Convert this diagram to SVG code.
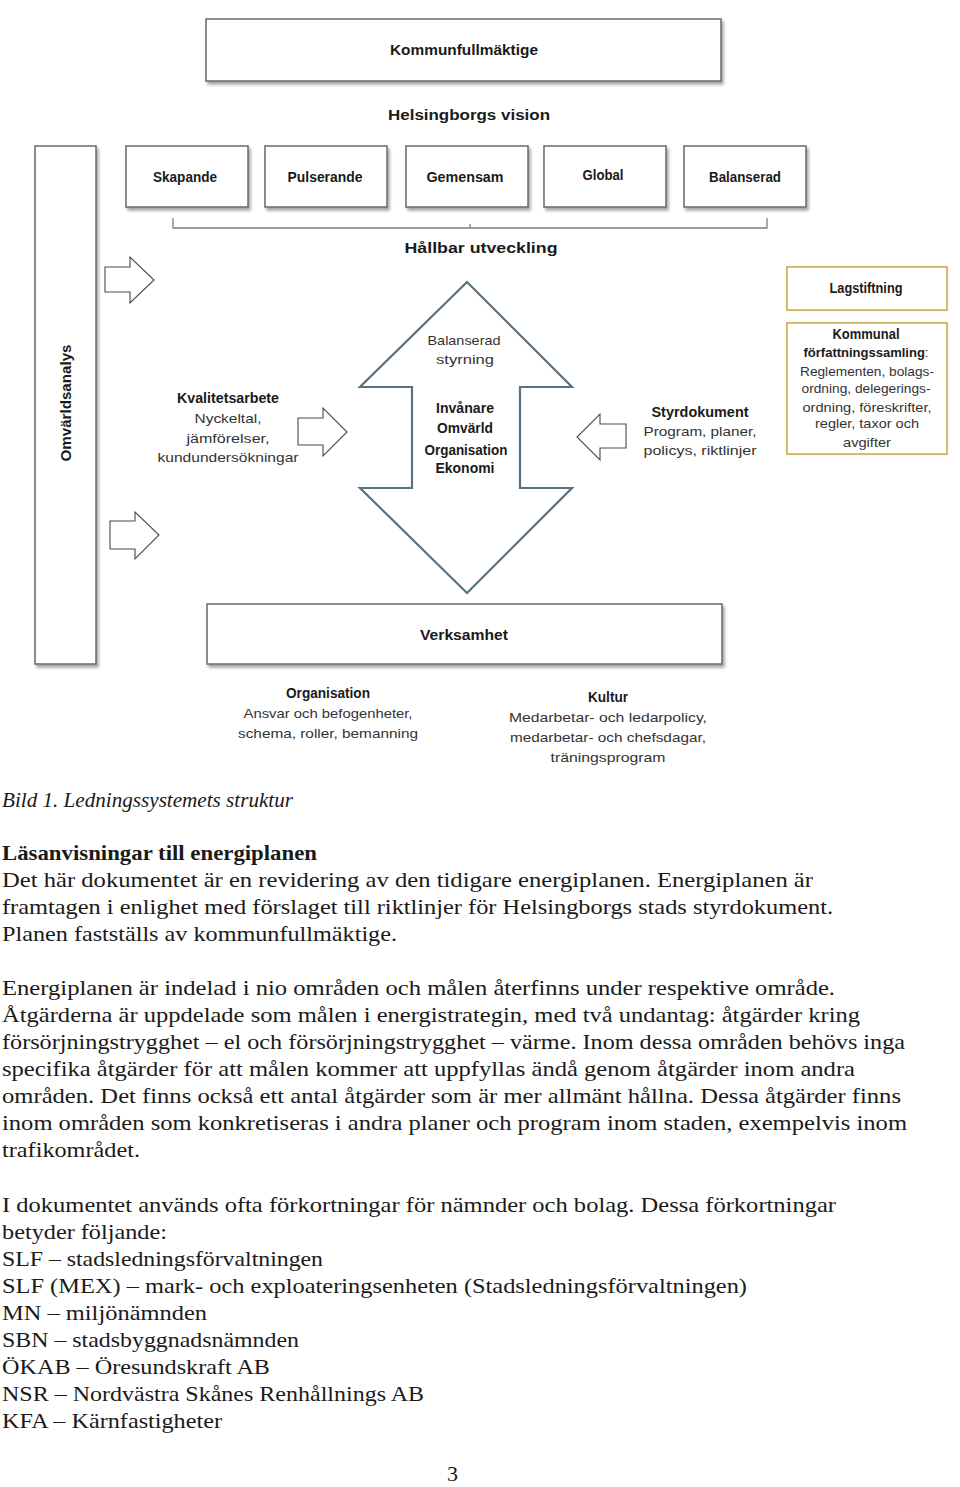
<svg xmlns="http://www.w3.org/2000/svg" width="960" height="1487" viewBox="0 0 960 1487">
<defs>
<filter id="sh" x="-5%" y="-5%" width="115%" height="130%">
<feDropShadow dx="2" dy="3" stdDeviation="1.5" flood-color="#000" flood-opacity="0.35"/>
</filter>
<filter id="glow" x="-5%" y="-5%" width="110%" height="110%">
<feDropShadow dx="0" dy="0" stdDeviation="1.2" flood-color="#e8c860" flood-opacity="0.6"/>
</filter>
</defs>
<style>
.box{fill:#fff;stroke:#5f6b73;stroke-width:1.5;filter:url(#sh)}
.gold{fill:#fff;stroke:#c8a94c;stroke-width:1.5;filter:url(#glow)}
.arr{fill:#fff;stroke:#4a4a4a;stroke-width:1.1;stroke-linejoin:miter}
.big{fill:#fff;stroke:#5a7180;stroke-width:2.2;stroke-linejoin:miter}
.br{fill:none;stroke:#7a8288;stroke-width:1.3}
.d{font-family:"Liberation Sans",Arial,sans-serif;fill:#1a1a1a;text-anchor:middle}
.b{font-weight:bold;font-size:14px}
.r{font-size:13px;fill:#333}
.t{font-family:"Liberation Serif","Times New Roman",serif;font-size:22px;fill:#1a1a1a}
</style>
<rect width="960" height="1487" fill="#fff"/>

<g id="kommunfullmaktige">
<rect class="box" x="206" y="19" width="515" height="62"/>
<text class="d b" x="464" y="55" textLength="148" lengthAdjust="spacingAndGlyphs">Kommunfullmäktige</text>
</g>
<g id="vision">
<text class="d b" x="469" y="120" font-size="15" textLength="162" lengthAdjust="spacingAndGlyphs">Helsingborgs vision</text>
</g>
<g id="skapande">
<rect class="box" x="126" y="146" width="122" height="61"/>
<text class="d b" x="185" y="182" textLength="64" lengthAdjust="spacingAndGlyphs">Skapande</text>
</g>
<g id="pulserande">
<rect class="box" x="265" y="146" width="122" height="61"/>
<text class="d b" x="325" y="182" textLength="75" lengthAdjust="spacingAndGlyphs">Pulserande</text>
</g>
<g id="gemensam">
<rect class="box" x="406" y="146" width="122" height="61"/>
<text class="d b" x="465" y="182" textLength="77" lengthAdjust="spacingAndGlyphs">Gemensam</text>
</g>
<g id="global">
<rect class="box" x="544" y="146" width="122" height="61"/>
<text class="d b" x="603" y="180" textLength="41" lengthAdjust="spacingAndGlyphs">Global</text>
</g>
<g id="balanserad">
<rect class="box" x="684" y="146" width="122" height="61"/>
<text class="d b" x="745" y="182" textLength="72" lengthAdjust="spacingAndGlyphs">Balanserad</text>
</g>
<g id="hallbar">
<text class="d b" x="481" y="253" font-size="15" textLength="153" lengthAdjust="spacingAndGlyphs">Hållbar utveckling</text>
</g>
<g id="omvarldsanalys">
<rect class="box" x="35" y="146" width="61" height="518"/>
<text class="d b" transform="translate(71 403) rotate(-90)" x="0" y="0" textLength="117" lengthAdjust="spacingAndGlyphs">Omvärldsanalys</text>
</g>
<g id="kvalitetsarbete">
<text class="d b" x="228" y="403" font-size="13.5" textLength="102" lengthAdjust="spacingAndGlyphs">Kvalitetsarbete</text>
<text class="d r" x="228" y="423" textLength="67" lengthAdjust="spacingAndGlyphs">Nyckeltal,</text>
<text class="d r" x="228" y="443" textLength="83" lengthAdjust="spacingAndGlyphs">jämförelser,</text>
<text class="d r" x="228" y="462" textLength="141" lengthAdjust="spacingAndGlyphs">kundundersökningar</text>
</g>
<g id="balanserad-styrning">
<polygon class="big" points="467,282 572,387 520,387 520,488 572,488 467,593 360,488 412,488 412,387 360,387"/>
<text class="d r" x="464" y="345" textLength="73" lengthAdjust="spacingAndGlyphs">Balanserad</text>
<text class="d r" x="465" y="364" textLength="58" lengthAdjust="spacingAndGlyphs">styrning</text>
<text class="d b" x="465" y="413" font-size="13.5" textLength="58" lengthAdjust="spacingAndGlyphs">Invånare</text>
<text class="d b" x="465" y="433" font-size="13.5" textLength="56" lengthAdjust="spacingAndGlyphs">Omvärld</text>
<text class="d b" x="466" y="455" font-size="13.5" textLength="83" lengthAdjust="spacingAndGlyphs">Organisation</text>
<text class="d b" x="465" y="473" font-size="13.5" textLength="59" lengthAdjust="spacingAndGlyphs">Ekonomi</text>
</g>
<g id="styrdokument">
<text class="d b" x="700" y="417" font-size="13.5" textLength="97" lengthAdjust="spacingAndGlyphs">Styrdokument</text>
<text class="d r" x="700" y="436" textLength="113" lengthAdjust="spacingAndGlyphs">Program, planer,</text>
<text class="d r" x="700" y="455" textLength="113" lengthAdjust="spacingAndGlyphs">policys, riktlinjer</text>
</g>
<g id="lagstiftning">
<rect class="gold" x="787" y="267" width="160" height="43"/>
<text class="d b" x="866" y="293" font-size="13" textLength="73" lengthAdjust="spacingAndGlyphs">Lagstiftning</text>
</g>
<g id="kommunal">
<rect class="gold" x="787" y="323" width="160" height="131"/>
<text class="d b" x="866" y="339" font-size="13" textLength="67" lengthAdjust="spacingAndGlyphs">Kommunal</text>
<text class="d" x="866" y="357" font-size="13" textLength="125" lengthAdjust="spacingAndGlyphs"><tspan font-weight="bold">författningssamling</tspan>:</text>
<text class="d r" x="867" y="376" textLength="134" lengthAdjust="spacingAndGlyphs">Reglementen, bolags-</text>
<text class="d r" x="866" y="393" textLength="129" lengthAdjust="spacingAndGlyphs">ordning, delegerings-</text>
<text class="d r" x="867" y="412" textLength="129" lengthAdjust="spacingAndGlyphs">ordning, föreskrifter,</text>
<text class="d r" x="867" y="428" textLength="104" lengthAdjust="spacingAndGlyphs">regler, taxor och</text>
<text class="d r" x="867" y="447" textLength="48" lengthAdjust="spacingAndGlyphs">avgifter</text>
</g>
<g id="verksamhet">
<rect class="box" x="207" y="604" width="515" height="60"/>
<text class="d b" x="464" y="640" textLength="88" lengthAdjust="spacingAndGlyphs">Verksamhet</text>
</g>
<g id="organisation">
<text class="d b" x="328" y="698" font-size="13" textLength="84" lengthAdjust="spacingAndGlyphs">Organisation</text>
<text class="d r" x="328" y="718" textLength="169" lengthAdjust="spacingAndGlyphs">Ansvar och befogenheter,</text>
<text class="d r" x="328" y="738" textLength="180" lengthAdjust="spacingAndGlyphs">schema, roller, bemanning</text>
</g>
<g id="kultur">
<text class="d b" x="608" y="702" font-size="13" textLength="40" lengthAdjust="spacingAndGlyphs">Kultur</text>
<text class="d r" x="608" y="722" textLength="198" lengthAdjust="spacingAndGlyphs">Medarbetar- och ledarpolicy,</text>
<text class="d r" x="608" y="742" textLength="196" lengthAdjust="spacingAndGlyphs">medarbetar- och chefsdagar,</text>
<text class="d r" x="608" y="762" textLength="115" lengthAdjust="spacingAndGlyphs">träningsprogram</text>
</g>

<g id="connectors">
<path class="br" d="M173,218 V228 H767 V218 M470,228 V224"/>
<polygon class="arr" points="105,267 130,267 130,257 154,280 130,303 130,292 105,292"/>
<polygon class="arr" points="110,521 135,521 135,512 159,535 135,559 135,549 110,549"/>
<polygon class="arr" points="298,418 323,418 323,408 347,432 323,456 323,445 298,445"/>
<polygon class="arr" points="626,424 600,424 600,414 577,437 600,460 600,448 626,448"/>
</g>

<g id="body">
<text class="t" x="2" y="807" font-style="italic" textLength="291" lengthAdjust="spacingAndGlyphs">Bild 1. Ledningssystemets struktur</text>
<text class="t" x="2" y="860" font-weight="bold" textLength="315" lengthAdjust="spacingAndGlyphs">Läsanvisningar till energiplanen</text>
<text class="t" x="2" y="887" textLength="811" lengthAdjust="spacingAndGlyphs">Det här dokumentet är en revidering av den tidigare energiplanen. Energiplanen är</text>
<text class="t" x="2" y="914" textLength="831" lengthAdjust="spacingAndGlyphs">framtagen i enlighet med förslaget till riktlinjer för Helsingborgs stads styrdokument.</text>
<text class="t" x="2" y="941" textLength="395" lengthAdjust="spacingAndGlyphs">Planen fastställs av kommunfullmäktige.</text>
<text class="t" x="2" y="995" textLength="833" lengthAdjust="spacingAndGlyphs">Energiplanen är indelad i nio områden och målen återfinns under respektive område.</text>
<text class="t" x="2" y="1022" textLength="858" lengthAdjust="spacingAndGlyphs">Åtgärderna är uppdelade som målen i energistrategin, med två undantag: åtgärder kring</text>
<text class="t" x="2" y="1049" textLength="903" lengthAdjust="spacingAndGlyphs">försörjningstrygghet – el och försörjningstrygghet – värme. Inom dessa områden behövs inga</text>
<text class="t" x="2" y="1076" textLength="853" lengthAdjust="spacingAndGlyphs">specifika åtgärder för att målen kommer att uppfyllas ändå genom åtgärder inom andra</text>
<text class="t" x="2" y="1103" textLength="899" lengthAdjust="spacingAndGlyphs">områden. Det finns också ett antal åtgärder som är mer allmänt hållna. Dessa åtgärder finns</text>
<text class="t" x="2" y="1130" textLength="905" lengthAdjust="spacingAndGlyphs">inom områden som konkretiseras i andra planer och program inom staden, exempelvis inom</text>
<text class="t" x="2" y="1157" textLength="138" lengthAdjust="spacingAndGlyphs">trafikområdet.</text>
<text class="t" x="2" y="1212" textLength="834" lengthAdjust="spacingAndGlyphs">I dokumentet används ofta förkortningar för nämnder och bolag. Dessa förkortningar</text>
<text class="t" x="2" y="1239" textLength="165" lengthAdjust="spacingAndGlyphs">betyder följande:</text>
<text class="t" x="2" y="1266" textLength="321" lengthAdjust="spacingAndGlyphs">SLF – stadsledningsförvaltningen</text>
<text class="t" x="2" y="1293" textLength="745" lengthAdjust="spacingAndGlyphs">SLF (MEX) – mark- och exploateringsenheten (Stadsledningsförvaltningen)</text>
<text class="t" x="2" y="1320" textLength="205" lengthAdjust="spacingAndGlyphs">MN – miljönämnden</text>
<text class="t" x="2" y="1347" textLength="297" lengthAdjust="spacingAndGlyphs">SBN – stadsbyggnadsnämnden</text>
<text class="t" x="2" y="1374" textLength="268" lengthAdjust="spacingAndGlyphs">ÖKAB – Öresundskraft AB</text>
<text class="t" x="2" y="1401" textLength="422" lengthAdjust="spacingAndGlyphs">NSR – Nordvästra Skånes Renhållnings AB</text>
<text class="t" x="2" y="1428" textLength="220" lengthAdjust="spacingAndGlyphs">KFA – Kärnfastigheter</text>
<text class="t" x="447" y="1481">3</text>
</g>
</svg>
